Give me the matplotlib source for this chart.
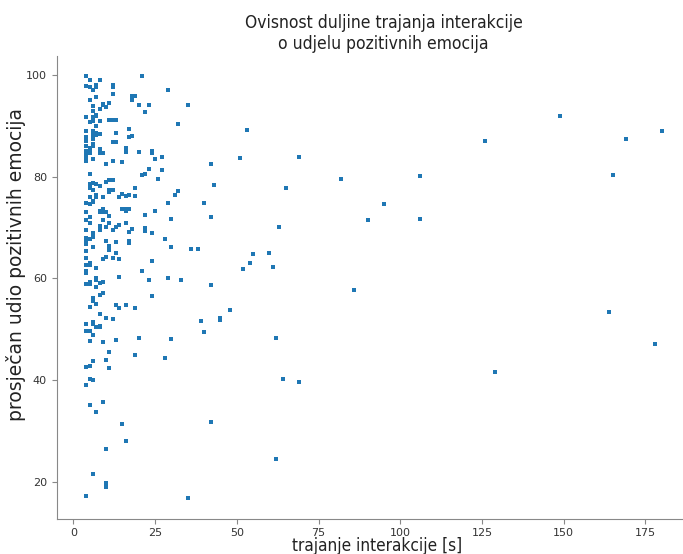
import matplotlib
matplotlib.use('Agg')
import matplotlib.pyplot as plt

# trajanje interakcije [s] (x) i prosjecan udio pozitivnih emocija (y), ocitano sa slike
dur_short = [4, 21, 5, 8, 4, 5, 7, 7, 12, 12, 6, 12, 7, 18, 19, 5, 18, 9, 9, 10, 11, 20, 23, 6, 8, 6, 22, 7, 7, 4,
             6, 11, 12, 13, 6, 5, 8, 7, 17, 4, 6, 13, 7, 7, 8, 6, 18, 17, 4, 4, 4, 6, 12, 13, 6, 6, 5, 4, 16, 8,
             4, 5, 5, 8, 9, 16, 20, 24, 24, 4, 27, 4, 4, 6, 25, 12, 15, 10, 23, 27, 5, 22, 21, 26, 11, 12, 10, 6, 5, 7]
share_short = [99.8, 99.8, 98.9, 99.0, 97.9, 97.7, 98.1, 97.7, 98.1, 97.7, 97.0, 96.2, 95.7, 95.9, 95.9, 95.1, 95.1,
               94.3, 94.0, 93.7, 94.4, 94.0, 94.0, 93.8, 93.3, 92.9, 92.7, 92.2, 91.9, 91.8, 91.8, 91.2, 91.2, 91.2,
               91.0, 90.8, 91.0, 89.9, 89.4, 89.0, 89.0, 88.6, 88.5, 88.2, 88.4, 88.2, 88.0, 87.7, 87.8, 87.4, 87.0,
               87.3, 86.9, 86.9, 86.4, 86.1, 85.7, 86.0, 85.7, 85.4, 85.1, 85.1, 84.7, 84.7, 84.7, 84.9, 84.9, 85.1,
               84.6, 84.3, 83.8, 83.4, 83.0, 83.4, 83.4, 83.0, 82.9, 82.5, 81.5, 81.3, 80.6, 80.6, 80.4, 79.5, 79.3,
               79.3, 79.0, 78.7, 78.6, 78.6]

dur_mid = [5, 5, 5, 8, 19, 6, 11, 12, 11, 15, 7, 7, 5, 9, 14, 16, 17, 19, 6, 6, 4, 5, 9, 8, 8, 9, 10, 15, 16, 17,
           16, 25, 4, 22, 11, 5, 4, 9, 5, 11, 14, 16, 8, 10, 13, 22, 22, 18, 4, 8, 12, 17, 24, 6, 6, 6, 5, 4, 4, 28,
           10, 13, 17, 17, 4, 6, 11, 11, 4, 13, 10, 9, 12, 14, 4, 24, 5, 5, 4, 7, 21, 4, 4, 14, 7, 7, 23, 9, 8, 4,
           5, 5, 7, 9, 8, 24, 6]
share_mid = [78.4, 78.1, 77.7, 78.1, 77.7, 77.4, 77.4, 77.4, 76.9, 76.6, 76.4, 76.1, 76.1, 76.1, 76.0, 76.2, 76.3,
             76.2, 75.3, 75.1, 74.8, 74.6, 73.6, 73.3, 73.1, 73.0, 73.0, 73.6, 73.6, 73.6, 73.3, 73.3, 73.0, 72.4,
             72.2, 72.0, 71.5, 71.5, 70.9, 70.9, 70.5, 70.9, 70.3, 70.1, 70.1, 69.9, 69.4, 69.8, 69.6, 69.6, 69.6,
             69.2, 69.0, 69.0, 68.6, 68.1, 67.7, 67.9, 67.5, 67.7, 67.3, 67.1, 67.3, 66.9, 66.8, 66.2, 66.4, 65.6,
             65.4, 65.1, 64.3, 63.9, 64.0, 63.8, 64.0, 63.5, 63.0, 62.6, 62.6, 62.1, 61.4, 61.4, 61.0, 60.3, 60.1,
             59.7, 59.7, 59.3, 59.1, 58.9, 59.3, 58.9, 58.4, 57.2, 56.8, 56.5, 56.2]

dur_low = [6, 6, 7, 5, 13, 14, 16, 19, 8, 10, 12, 6, 6, 4, 8, 8, 7, 4, 5, 6, 5, 9, 13, 20, 11, 19, 28, 10, 6, 5,
           4, 11, 5, 6, 4, 9, 5, 7, 15, 16, 10, 6, 10, 10, 4]
share_low = [55.8, 55.5, 55.0, 54.4, 54.7, 54.3, 54.8, 54.3, 53.0, 52.2, 52.1, 51.4, 51.1, 51.0, 50.7, 50.5, 50.4,
             49.7, 49.7, 48.9, 47.8, 47.6, 47.9, 48.3, 45.5, 44.9, 44.4, 44.0, 43.7, 42.9, 42.6, 42.4, 40.3, 40.0,
             39.0, 35.8, 35.1, 33.7, 31.5, 28.0, 26.5, 21.5, 19.8, 19.1, 17.2]

dur_long = [29, 35, 32, 53, 51, 69, 42, 43, 32, 31, 65, 29, 40, 30, 42, 63, 30, 36, 38, 55, 60, 54, 61, 52, 29, 33,
            42, 48, 39, 45, 45, 40, 30, 62, 64, 69, 42, 62, 35,
            149, 126, 169, 180, 82, 106, 165, 95, 90, 106, 86, 164, 178, 129]
share_long = [97.0, 94.0, 90.3, 89.1, 83.6, 83.8, 82.5, 78.3, 77.2, 76.3, 77.8, 74.8, 74.8, 71.7, 72.0, 70.1, 66.2,
              65.8, 65.8, 64.9, 65.1, 63.1, 62.3, 61.8, 60.1, 59.7, 58.8, 53.9, 51.7, 52.2, 51.8, 49.5, 48.1, 48.3,
              40.3, 39.6, 31.9, 24.6, 16.8,
              91.9, 87.1, 87.3, 88.9, 79.6, 80.2, 80.4, 74.6, 71.5, 71.6, 57.8, 53.4, 47.2, 41.6]

durations = dur_short + dur_mid + dur_low + dur_long
shares = share_short + share_mid + share_low + share_long

plt.rcParams['font.family'] = 'DejaVu Sans'

fig = plt.figure(figsize=(6.83, 5.54), dpi=100)
ax = fig.add_axes([56.7 / 683, (554 - 519.3) / 554, (683 - 56.7) / 683, (519.3 - 56) / 554])

ax.scatter(durations, shares, s=5, marker='s', color='#1f77b4', linewidths=0)

ax.set_xlim(-5.1, 186.5)
ax.set_ylim(12.7, 103.7)
ax.set_xticks([0, 25, 50, 75, 100, 125, 150, 175])
ax.set_yticks([20, 40, 60, 80, 100])

# izgled osi
for side in ['top', 'right']:
    ax.spines[side].set_visible(False)
for side in ['left', 'bottom']:
    ax.spines[side].set_color('#888888')
ax.tick_params(labelsize=8, colors='#333333', length=3.5, width=0.8)
ax.tick_params(axis='both', color='#888888')
ax.tick_params(axis='x', pad=2.5)

ax.set_title('Ovisnost duljine trajanja interakcije\no udjelu pozitivnih emocija',
             fontsize=12.5, fontstretch='condensed', color='#222222', x=0.522, pad=5)
ax.set_xlabel('trajanje interakcije [s]', fontsize=12.3, fontstretch='condensed', color='#222222', x=0.511, labelpad=-0.6)
ax.set_ylabel('prosječan udio pozitivnih emocija', fontsize=13.5, color='#222222')
ax.yaxis.set_label_coords(-0.049, 0.549)

fig.savefig('out.png', dpi=100)
